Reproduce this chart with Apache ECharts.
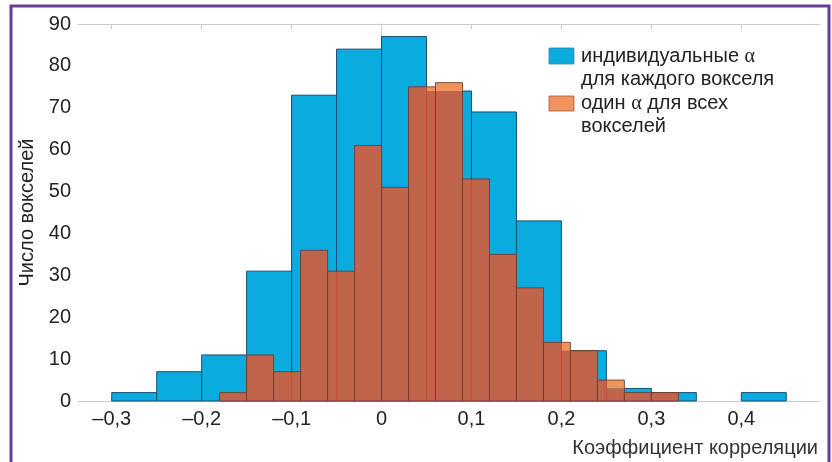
<!DOCTYPE html>
<html>
<head>
<meta charset="utf-8">
<script src="https://cdn.jsdelivr.net/npm/echarts@6/dist/echarts.min.js"></script>
<style>
  html, body { margin: 0; padding: 0; background: #ffffff; }
  #chart { width: 832px; height: 462px; }
</style>
</head>
<body>
<div id="chart"></div>
<script>
// Histogram of voxel correlation coefficients: per-voxel alpha vs one alpha for all voxels.
const individualBinStarts = [-0.30, -0.25, -0.20, -0.15, -0.10, -0.05, 0.00, 0.05, 0.10, 0.15, 0.20, 0.25, 0.30, 0.35, 0.40];
const individualBinWidth = 0.05;
const individualCounts = [2, 7, 11, 31, 73, 84, 87, 74, 69, 43, 12, 3, 2, 0, 2];

const commonBinStarts = [-0.18, -0.15, -0.12, -0.09, -0.06, -0.03, 0.00, 0.03, 0.06, 0.09, 0.12, 0.15, 0.18, 0.21, 0.24, 0.27, 0.30];
const commonBinWidth = 0.03;
const commonCounts = [2, 11, 7, 36, 31, 61, 51, 75, 76, 53, 35, 27, 14, 12, 5, 2, 2];

const xTickValues = [-0.3, -0.2, -0.1, 0, 0.1, 0.2, 0.3, 0.4];
const yTickValues = [0, 10, 20, 30, 40, 50, 60, 70, 80, 90];

const legendIndividual = 'индивидуальные {a|α}\nдля каждого вокселя';
const legendCommon = 'один {a|α} для всех\nвокселей';
const xTitle = 'Коэффициент корреляции';
const yTitle = 'Число вокселей';

const BLUE = '#0aace0';
const BLUE_EDGE = '#1d4c6c';
const ORANGE = '#f0935c';
const BROWN = '#c0654c';
const ORANGE_EDGE = '#6e3a2c';
const SEAM = '#cf4a32';
const AXIS = '#c5cdd2';
const TEXT = '#232323';
const FONT = '"Liberation Sans", Arial, Helvetica, sans-serif';
const SERIF = '"Liberation Serif", "DejaVu Serif", serif';

const eps = 1e-9;
function individualHeightAt(x) {
  for (let i = 0; i < individualBinStarts.length; i++) {
    const a = individualBinStarts[i], b = a + individualBinWidth;
    if (x > a + eps && x < b - eps) return individualCounts[i];
  }
  return 0;
}

function fmtTick(v) {
  const r = Math.round(v * 10) / 10;
  if (r === 0) return '0';
  const s = Math.abs(r).toFixed(1).replace('.', ',');
  return r < 0 ? '\u2013' + s : s;
}

const individualData = individualBinStarts.map((s, i) => [s, s + individualBinWidth, individualCounts[i]]);
const commonData = commonBinStarts.map((s, i) => [s, s + commonBinWidth, commonCounts[i]]);

function rectFrom(api, x0, x1, y0, y1) {
  const p0 = api.coord([x0, y1]);
  const p1 = api.coord([x1, y0]);
  return { x: p0[0], y: p0[1], width: p1[0] - p0[0], height: p1[1] - p0[1] };
}

const chart = echarts.init(document.getElementById('chart'), null, { renderer: 'canvas' });

const xRange = { min: -0.3375, max: 0.4875 };

chart.setOption({
  backgroundColor: '#ffffff',
  animation: false,
  grid: { left: 78, right: 12, top: 24, bottom: 61, show: false },
  xAxis: [
    {
      type: 'value', min: xRange.min, max: xRange.max, position: 'bottom',
      splitLine: { show: false },
      axisLine: { show: true, onZero: false, lineStyle: { color: AXIS, width: 1 } },
      axisTick: { show: true, inside: true, length: 5, customValues: xTickValues, lineStyle: { color: AXIS } },
      axisLabel: { customValues: xTickValues, formatter: fmtTick, color: TEXT, fontSize: 20, fontFamily: FONT, margin: 8 },
      name: xTitle, nameLocation: 'end', nameGap: -2,
      nameTextStyle: { color: '#333333', fontSize: 20, fontFamily: FONT, align: 'right', verticalAlign: 'top', padding: [37, 0, 0, 0] }
    },
    {
      type: 'value', min: xRange.min, max: xRange.max, position: 'top',
      splitLine: { show: false },
      axisLine: { show: true, onZero: false, lineStyle: { color: AXIS, width: 1 } },
      axisTick: { show: true, inside: true, length: 5, customValues: xTickValues, lineStyle: { color: AXIS } },
      axisLabel: { show: false }
    }
  ],
  yAxis: [
    {
      type: 'value', min: 0, max: 90, interval: 10, position: 'left',
      splitLine: { show: false },
      axisLine: { show: true, lineStyle: { color: AXIS, width: 1 } },
      axisTick: { show: true, inside: true, length: 5, lineStyle: { color: AXIS } },
      axisLabel: { color: TEXT, fontSize: 20, fontFamily: FONT, margin: 7 },
      name: yTitle, nameLocation: 'middle', nameGap: 36, nameRotate: 90,
      nameTextStyle: { color: TEXT, fontSize: 20, fontFamily: FONT }
    },
    {
      type: 'value', min: 0, max: 90, interval: 10, position: 'right',
      splitLine: { show: false },
      axisLine: { show: true, lineStyle: { color: AXIS, width: 1 } },
      axisTick: { show: true, inside: true, length: 5, lineStyle: { color: AXIS } },
      axisLabel: { show: false }
    }
  ],
  series: [
    {
      name: 'individual',
      type: 'custom',
      xAxisIndex: 0, yAxisIndex: 0,
      data: individualData,
      encode: { x: [0, 1], y: 2 },
      renderItem: function (params, api) {
        const x0 = api.value(0), x1 = api.value(1), h = api.value(2);
        if (!h) return null;
        return {
          type: 'rect',
          shape: rectFrom(api, x0, x1, 0, h),
          style: { fill: BLUE, stroke: BLUE_EDGE, lineWidth: 1 }
        };
      },
      z: 2
    },
    {
      name: 'common',
      type: 'custom',
      xAxisIndex: 0, yAxisIndex: 0,
      data: commonData,
      encode: { x: [0, 1], y: 2 },
      renderItem: function (params, api) {
        const x0 = api.value(0), x1 = api.value(1), h = api.value(2);
        // split the bin at the edges of the underlying histogram
        const cuts = [x0];
        individualBinStarts.concat([individualBinStarts[individualBinStarts.length - 1] + individualBinWidth]).forEach(e => {
          if (e > x0 + eps && e < x1 - eps) cuts.push(e);
        });
        cuts.push(x1);
        const children = [];
        for (let i = 0; i < cuts.length - 1; i++) {
          const a = cuts[i], b = cuts[i + 1];
          const under = individualHeightAt((a + b) / 2);
          const low = Math.min(h, under);
          if (low > 0) {
            children.push({ type: 'rect', shape: rectFrom(api, a, b, 0, low), style: { fill: BROWN } });
          }
          if (h > under) {
            children.push({ type: 'rect', shape: rectFrom(api, a, b, under, h), style: { fill: ORANGE } });
          }
        }
        for (let i = 1; i < cuts.length - 1; i++) {
          const p0 = api.coord([cuts[i], 0]);
          const p1 = api.coord([cuts[i], h]);
          children.push({ type: 'line', shape: { x1: p0[0], y1: p0[1], x2: p1[0], y2: p1[1] }, style: { stroke: SEAM, lineWidth: 1.2 } });
        }
        children.push({
          type: 'rect', shape: rectFrom(api, x0, x1, 0, h),
          style: { fill: null, stroke: ORANGE_EDGE, lineWidth: 1, opacity: 0.85 }
        });
        return { type: 'group', children: children };
      },
      z: 3
    }
  ],
  graphic: [
    {
      type: 'rect', silent: true, z: 100,
      shape: { x: 11, y: 6, width: 818, height: 480 },
      style: { fill: null, stroke: '#6a3d9a', lineWidth: 3 }
    },
    {
      type: 'rect', z: 50,
      shape: { x: 549, y: 48, width: 25, height: 16 },
      style: { fill: BLUE, stroke: '#3c7ea0', lineWidth: 0.8 }
    },
    {
      type: 'text', z: 50, left: 581, top: 45,
      style: {
        text: legendIndividual, fill: TEXT, fontSize: 20, fontFamily: FONT, lineHeight: 23,
        rich: { a: { fontFamily: SERIF, fontSize: 20, fill: TEXT, lineHeight: 23 } }
      }
    },
    {
      type: 'rect', z: 50,
      shape: { x: 549, y: 96, width: 25, height: 15 },
      style: { fill: ORANGE, stroke: '#9a5a44', lineWidth: 0.8 }
    },
    {
      type: 'text', z: 50, left: 581, top: 92,
      style: {
        text: legendCommon, fill: TEXT, fontSize: 20, fontFamily: FONT, lineHeight: 23,
        rich: { a: { fontFamily: SERIF, fontSize: 20, fill: TEXT, lineHeight: 23 } }
      }
    }
  ]
});
</script>
</body>
</html>
